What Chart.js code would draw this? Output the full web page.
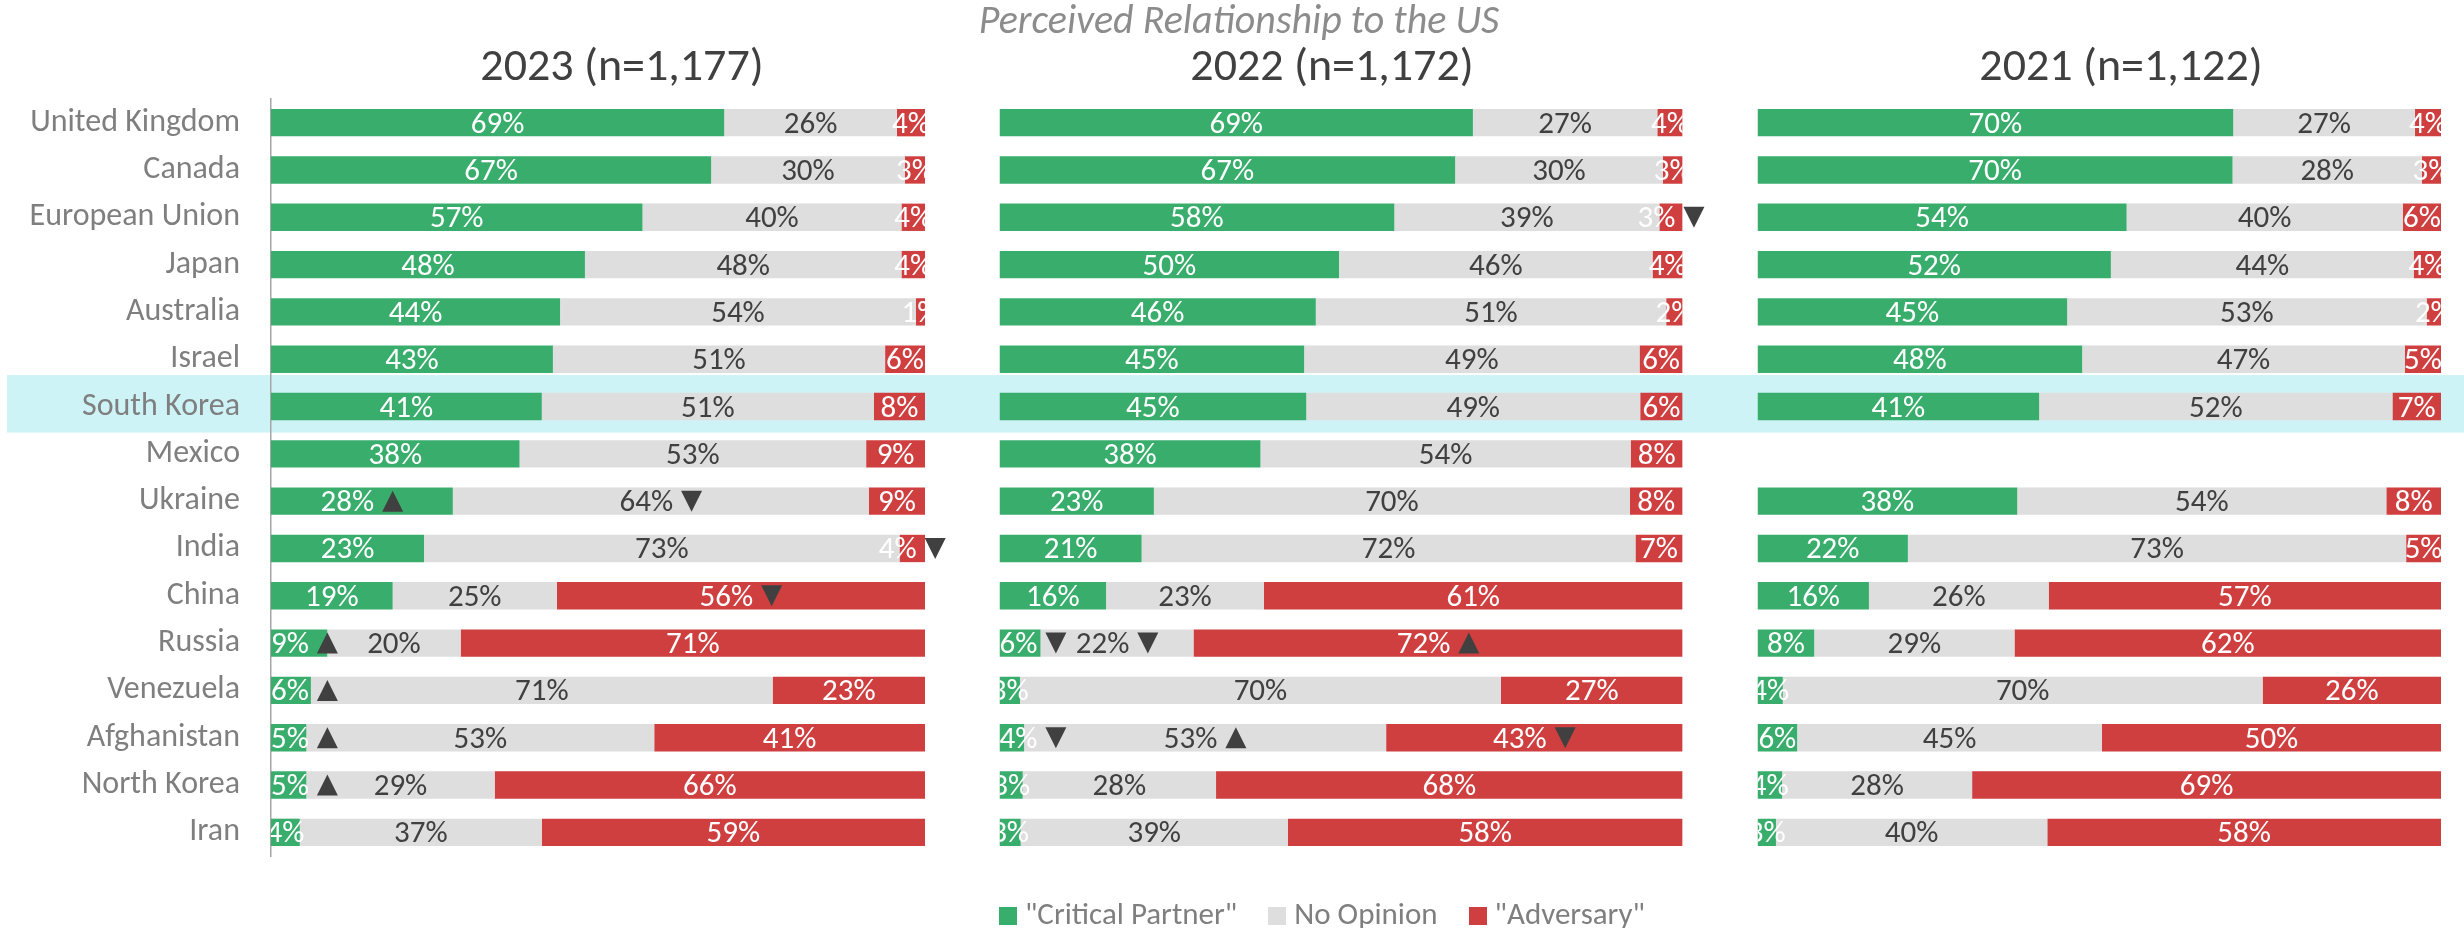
<!DOCTYPE html>
<html>
<head>
<meta charset="utf-8">
<script src="https://cdn.jsdelivr.net/npm/chart.js@4.4.1/dist/chart.umd.min.js"></script>
<style>
  html,body{margin:0;padding:0;background:#fff;}
  body{width:2464px;height:928px;position:relative;overflow:hidden;}
  canvas{position:absolute;top:0;}
  .txt{position:absolute;white-space:nowrap;line-height:1;}
</style>
</head>
<body>
<canvas id="c2023" width="962" height="928" style="left:0px"></canvas>
<canvas id="c2022" width="758" height="928" style="left:962px"></canvas>
<canvas id="c2021" width="744" height="928" style="left:1720px"></canvas>
<div id="texts"></div>
<script>
// ---------------- DATA ----------------
const categories = ['United Kingdom','Canada','European Union','Japan','Australia','Israel','South Korea','Mexico','Ukraine','India','China','Russia','Venezuela','Afghanistan','North Korea','Iran'];
const seriesNames = ['"Critical Partner"','No Opinion','"Adversary"'];
const mainTitle = 'Perceived Relationship to the US';
const panelTitles = ['2023 (n=1,177)','2022 (n=1,172)','2021 (n=1,122)'];
const highlighted = 'South Korea';

const partner2023   = [69.3,67.3,56.8,48.0,44.2,43.1,41.4,38.0,27.8,23.4,18.6,8.6,6.1,5.4,5.4,4.4];
const noOpinion2023 = [26.4,29.6,39.6,48.4,54.4,50.8,50.8,53.0,63.6,72.7,25.1,20.4,70.6,53.2,28.8,37.0];
const adversary2023 = [4.3,3.1,3.6,3.6,1.4,6.1,7.8,9.0,8.6,3.9,56.3,71.0,23.3,41.4,65.8,58.6];

const partner2022   = [69.3,66.7,57.8,49.7,46.3,44.6,44.9,38.2,22.6,20.8,15.6,6.0,3.0,3.6,3.4,3.1];
const noOpinion2022 = [27.0,30.4,38.8,45.9,51.3,49.1,48.9,54.2,69.7,72.3,23.1,22.4,70.4,53.0,28.3,39.1];
const adversary2022 = [3.7,2.9,3.4,4.4,2.4,6.3,6.2,7.6,7.7,6.9,61.3,71.6,26.6,43.4,68.3,57.8];

const partner2021   = [69.6,69.5,54.0,51.7,45.3,47.5,41.2,null,38.0,22.0,16.3,8.3,3.7,5.8,3.6,2.7];
const noOpinion2021 = [26.6,27.7,40.4,44.3,52.6,47.2,51.7,null,54.0,72.9,26.3,29.3,70.2,44.6,27.8,39.7];
const adversary2021 = [3.8,2.8,5.6,4.0,2.1,5.3,7.1,null,8.0,5.1,57.4,62.4,26.1,49.6,68.6,57.6];

// significant change markers: 'up', 'down' or ''
const partnerMarks2023   = ['','','','','','','','','up','','','up','up','up','up',''];
const noOpinionMarks2023 = ['','','','','','','','','down','','','','','','',''];
const adversaryMarks2023 = ['','','','','','','','','','down','down','','','','',''];
const partnerMarks2022   = ['','','','','','','','','','','','down','','down','',''];
const noOpinionMarks2022 = ['','','','','','','','','','','','down','','up','',''];
const adversaryMarks2022 = ['','','down','','','','','','','','','up','','down','',''];
const noMarks = [];

// ---------------- STYLE ----------------
const FONT = "Carlito, Calibri, Lato, sans-serif";
const COLORS = ['#38AD6C', '#DEDEDE', '#CF3F3F'];
const LABEL_COLORS = ['#FFFFFF', '#404040', '#FFFFFF'];
const BAND_COLOR = '#CDF3F6';

const bandPlugin = {
  id: 'band',
  beforeDraw(chart, args, opts) {
    const y = chart.scales.y;
    const i = categories.indexOf(highlighted);
    const top = y.getPixelForValue(i - 0.665);
    const bot = y.getPixelForValue(i + 0.55);
    const ctx = chart.ctx;
    ctx.save();
    ctx.fillStyle = BAND_COLOR;
    ctx.fillRect(opts.x0 || 0, top, chart.width - (opts.x0 || 0), bot - top);
    ctx.restore();
  }
};

const labelPlugin = {
  id: 'barLabels',
  afterDatasetsDraw(chart) {
    const { ctx, chartArea } = chart;
    ctx.save();
    ctx.font = `31px ${FONT}`;
    ctx.textAlign = 'left';
    ctx.textBaseline = 'alphabetic';
    const asc = ctx.measureText('0').actualBoundingBoxAscent;
    const GAP = 8, TRI = 21;
    chart.data.datasets.forEach((ds, di) => {
      const meta = chart.getDatasetMeta(di);
      meta.data.forEach((bar, i) => {
        const v = ds.data[i];
        if (v == null) return;
        const text = Math.round(v) + '%';
        const mk = ds.marks[i] || '';
        const tw = ctx.measureText(text).width;
        const total = mk ? tw + GAP + TRI : tw;
        const l = Math.min(bar.x, bar.base), r = Math.max(bar.x, bar.base);
        let x0 = (l + r) / 2 - total / 2;
        if (mk && x0 < chartArea.left) x0 = chartArea.left;
        ctx.save();
        ctx.beginPath();
        ctx.rect(chartArea.left, chartArea.top, chartArea.right - chartArea.left, chartArea.bottom - chartArea.top);
        ctx.clip();
        ctx.fillStyle = ds.labelColor;
        ctx.fillText(text, x0, bar.y + asc / 2);
        ctx.restore();
        if (mk) {
          const tx = x0 + tw + GAP, h = 21;
          ctx.fillStyle = '#404040';
          ctx.beginPath();
          if (mk === 'up') {
            ctx.moveTo(tx, bar.y + h / 2); ctx.lineTo(tx + TRI, bar.y + h / 2); ctx.lineTo(tx + TRI / 2, bar.y - h / 2);
          } else {
            ctx.moveTo(tx, bar.y - h / 2); ctx.lineTo(tx + TRI, bar.y - h / 2); ctx.lineTo(tx + TRI / 2, bar.y + h / 2);
          }
          ctx.closePath();
          ctx.fill();
        }
      });
    });
    ctx.restore();
  }
};

function makePanel(id, values, marks, withAxis, padding, bandX0) {
  const datasets = values.map((d, k) => ({
    label: seriesNames[k],
    data: d,
    marks: marks[k],
    labelColor: LABEL_COLORS[k],
    backgroundColor: COLORS[k],
    borderWidth: 0,
    barPercentage: 0.578,
    categoryPercentage: 1.0
  }));
  return new Chart(document.getElementById(id), {
    type: 'bar',
    data: { labels: categories, datasets },
    plugins: [bandPlugin, labelPlugin],
    options: {
      indexAxis: 'y',
      responsive: false,
      animation: false,
      layout: { padding },
      plugins: {
        legend: { display: false },
        tooltip: { enabled: false },
        title: { display: false },
        band: { x0: bandX0 }
      },
      scales: {
        x: { type: 'linear', stacked: true, min: 0, max: 100, display: false },
        y: {
          type: 'category', stacked: true, offset: true, display: withAxis,
          grid: { display: false, drawTicks: false },
          border: { display: withAxis, color: '#A6A6A6', width: 1.5 },
          ticks: { color: '#7F7F7F', font: { family: FONT, size: 32 }, padding: 31, autoSkip: false },
          afterFit(s) { if (withAxis) s.width = 271 - padding.left; }
        }
      }
    }
  });
}

makePanel('c2023', [partner2023, noOpinion2023, adversary2023],
  [partnerMarks2023, noOpinionMarks2023, adversaryMarks2023], true,
  { left: 0, right: 37, top: 99, bottom: 72 }, 7);
makePanel('c2022', [partner2022, noOpinion2022, adversary2022],
  [partnerMarks2022, noOpinionMarks2022, adversaryMarks2022], false,
  { left: 37.5, right: 37.4, top: 99, bottom: 72 }, 0);
makePanel('c2021', [partner2021, noOpinion2021, adversary2021],
  [noMarks, noMarks, noMarks], false,
  { left: 37.5, right: 23, top: 99, bottom: 72 }, 0);

// ---------------- TEXTS (HTML) ----------------
const texts = document.getElementById('texts');
function placeText(str, cx, baseline, css) {
  const d = document.createElement('div');
  d.className = 'txt';
  d.style.cssText += css;
  d.style.fontFamily = FONT;
  const s = document.createElement('span'); s.textContent = str;
  const probe = document.createElement('span');
  probe.style.cssText = 'display:inline-block;width:0;height:0;';
  d.appendChild(s); d.appendChild(probe);
  d.style.top = '0px'; d.style.left = '0px';
  texts.appendChild(d);
  const r = d.getBoundingClientRect();
  const b = probe.getBoundingClientRect().top;
  d.style.left = (cx - r.width / 2) + 'px';
  d.style.top = (baseline - b) + 'px';
  return d;
}
placeText(mainTitle, 1239, 33, 'font-size:40px;font-style:italic;color:#8C8C8C;');
const titleCenters = [622, 1332, 2121];
panelTitles.forEach((t, k) => placeText(t, titleCenters[k], 80, 'font-size:46px;color:#404040;'));

// legend
const leg = document.createElement('div');
leg.className = 'txt';
leg.style.cssText += `font-family:${FONT};font-size:31px;color:#7F7F7F;display:flex;align-items:baseline;`;
seriesNames.forEach((n, k) => {
  const sw = document.createElement('span');
  sw.style.cssText = `display:inline-block;width:18px;height:18px;background:${COLORS[k]};margin-right:8px;margin-left:${k ? 31 : 0}px;transform:translateY(1px);`;
  const t = document.createElement('span'); t.textContent = n;
  leg.appendChild(sw); leg.appendChild(t);
});
const lp = document.createElement('span'); lp.style.cssText = 'display:inline-block;width:0;height:0;';
leg.appendChild(lp);
texts.appendChild(leg);
const lr = leg.getBoundingClientRect();
const lb = lp.getBoundingClientRect().top;
leg.style.left = (1322 - lr.width / 2) + 'px';
leg.style.top = (924 - lb) + 'px';
</script>
</body>
</html>
